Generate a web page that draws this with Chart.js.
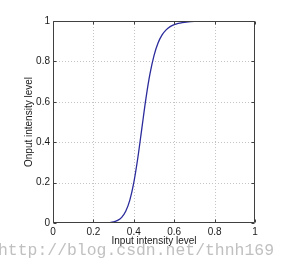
<!DOCTYPE html>
<html><head><meta charset="utf-8">
<script src="https://cdn.jsdelivr.net/npm/chart.js@4/dist/chart.umd.min.js"></script>
<style>html,body{margin:0;padding:0;background:#fff;overflow:hidden}#wrap{width:288px;height:270px;position:relative}</style>
</head><body><div id="wrap"><canvas id="c"></canvas></div>
<script>
const inputLevels = [0,0.02,0.04,0.06,0.08,0.10,0.12,0.14,0.16,0.18,0.20,0.22,0.24,0.26,0.28,0.30,0.32,0.34,0.36,0.38,0.40,0.42,0.44,0.46,0.48,0.50,0.52,0.54,0.56,0.58,0.60,0.62,0.64,0.66,0.68,0.70,0.72,0.74,0.76,0.78,0.80,0.82,0.84,0.86,0.88,0.90,0.92,0.94,0.96,0.98,1.00];
const outputLevels = [0,0,0,0,0,0,0,0,0,0,0,0.0001,0.0003,0.0008,0.0022,0.0054,0.0127,0.028,0.058,0.112,0.200,0.323,0.470,0.616,0.738,0.829,0.891,0.931,0.956,0.972,0.982,0.988,0.992,0.995,0.997,0.998,0.998,0.999,0.999,0.999,1,1,1,1,1,1,1,1,1,1,1];
const tickValues = [0,0.2,0.4,0.6,0.8,1];
const tickLabels = ['0','0.2','0.4','0.6','0.8','1'];
const xTitle = 'Input intensity level';
const yTitle = 'Onput intensity level';
const watermark = 'http://blog.csdn.net/thnh169';

const points = inputLevels.map((x,i)=>({x:x,y:outputLevels[i]}));
const FONT = '"Liberation Sans", Arial, sans-serif';

function drawFrame(chart){
  const c=chart.ctx, a=chart.chartArea, xs=chart.scales.x, ys=chart.scales.y;
  c.save(); c.setLineDash([]); c.strokeStyle='#404040'; c.lineWidth=1;
  const L=Math.round(a.left)+0.5, R=Math.round(a.right)-0.5, T=Math.round(a.top)+0.5, B=Math.round(a.bottom)-0.5;
  c.beginPath(); c.rect(L,T,R-L,B-T); c.stroke();
  const tl=3;
  tickValues.forEach(v=>{
    const px=Math.round(xs.getPixelForValue(v))+0.5;
    c.beginPath(); c.moveTo(px,B); c.lineTo(px,B-tl); c.moveTo(px,T); c.lineTo(px,T+tl); c.stroke();
    const py=Math.round(ys.getPixelForValue(v))+0.5;
    c.beginPath(); c.moveTo(L,py); c.lineTo(L+tl,py); c.moveTo(R,py); c.lineTo(R-tl,py); c.stroke();
  });
  c.restore();
}

const matlabAxes = {
  id:'matlabAxes',
  beforeDraw(chart){
    const c=chart.ctx; c.save(); c.fillStyle='#fff'; c.fillRect(0,0,chart.width,chart.height); c.restore();
  },
  beforeDatasetsDraw(chart){
    const c=chart.ctx, a=chart.chartArea, xs=chart.scales.x, ys=chart.scales.y;
    c.save(); c.strokeStyle='#c4c4c4'; c.lineWidth=1; c.setLineDash([1,2]);
    tickValues.forEach(v=>{
      if(v<=0||v>=1) return;
      const px=Math.round(xs.getPixelForValue(v))+0.5;
      c.beginPath(); c.moveTo(px,a.top); c.lineTo(px,a.bottom); c.stroke();
      const py=Math.round(ys.getPixelForValue(v))+0.5;
      c.beginPath(); c.moveTo(a.left,py); c.lineTo(a.right,py); c.stroke();
    });
    c.restore();
  },
  afterDraw(chart){
    drawFrame(chart);
    const c=chart.ctx, a=chart.chartArea;
    c.save();
    c.fillStyle='#1a1a1a'; c.font='10px '+FONT;
    c.textAlign='center'; c.textBaseline='alphabetic';
    c.fillText(xTitle,(a.left+a.right)/2,244);
    c.translate(31.5,(a.top+a.bottom)/2); c.rotate(-Math.PI/2);
    c.fillText(yTitle,0,0);
    c.restore();
    c.save();
    c.fillStyle='rgba(185,185,185,0.9)';
    c.font='17px "Liberation Mono", monospace';
    c.textAlign='left'; c.textBaseline='alphabetic';
    const w=c.measureText(watermark).width;
    c.translate(-2,255); c.scale(276/w,1);
    c.fillText(watermark,0,0);
    c.restore();
  }
};

const fmt = v => { const i=tickValues.indexOf(Math.round(v*10)/10); return i>=0?tickLabels[i]:''; };

new Chart(document.getElementById('c'),{
  type:'scatter',
  data:{datasets:[{data:points,showLine:true,borderColor:'#2b2b9c',borderWidth:1.3,pointRadius:0,cubicInterpolationMode:'monotone',fill:false}]},
  options:{
    responsive:true, maintainAspectRatio:false, animation:false, devicePixelRatio:1,
    layout:{padding:{left:0,top:21,right:33,bottom:0}},
    plugins:{legend:{display:false},tooltip:{enabled:false}},
    scales:{
      x:{type:'linear',min:0,max:1,
        afterBuildTicks(s){s.ticks=tickValues.map(v=>({value:v}));},
        afterFit(s){s.height=47;},
        grid:{display:false,drawTicks:false},border:{display:false},
        ticks:{font:{size:10,family:FONT},color:'#1a1a1a',padding:3,maxRotation:0,autoSkip:false,callback:fmt}},
      y:{type:'linear',min:0,max:1,
        afterBuildTicks(s){s.ticks=tickValues.map(v=>({value:v}));},
        afterFit(s){s.width=53;},
        grid:{display:false,drawTicks:false},border:{display:false},
        ticks:{font:{size:10,family:FONT},color:'#1a1a1a',padding:3,autoSkip:false,callback:fmt}}
    }
  },
  plugins:[matlabAxes]
});
</script></body></html>
